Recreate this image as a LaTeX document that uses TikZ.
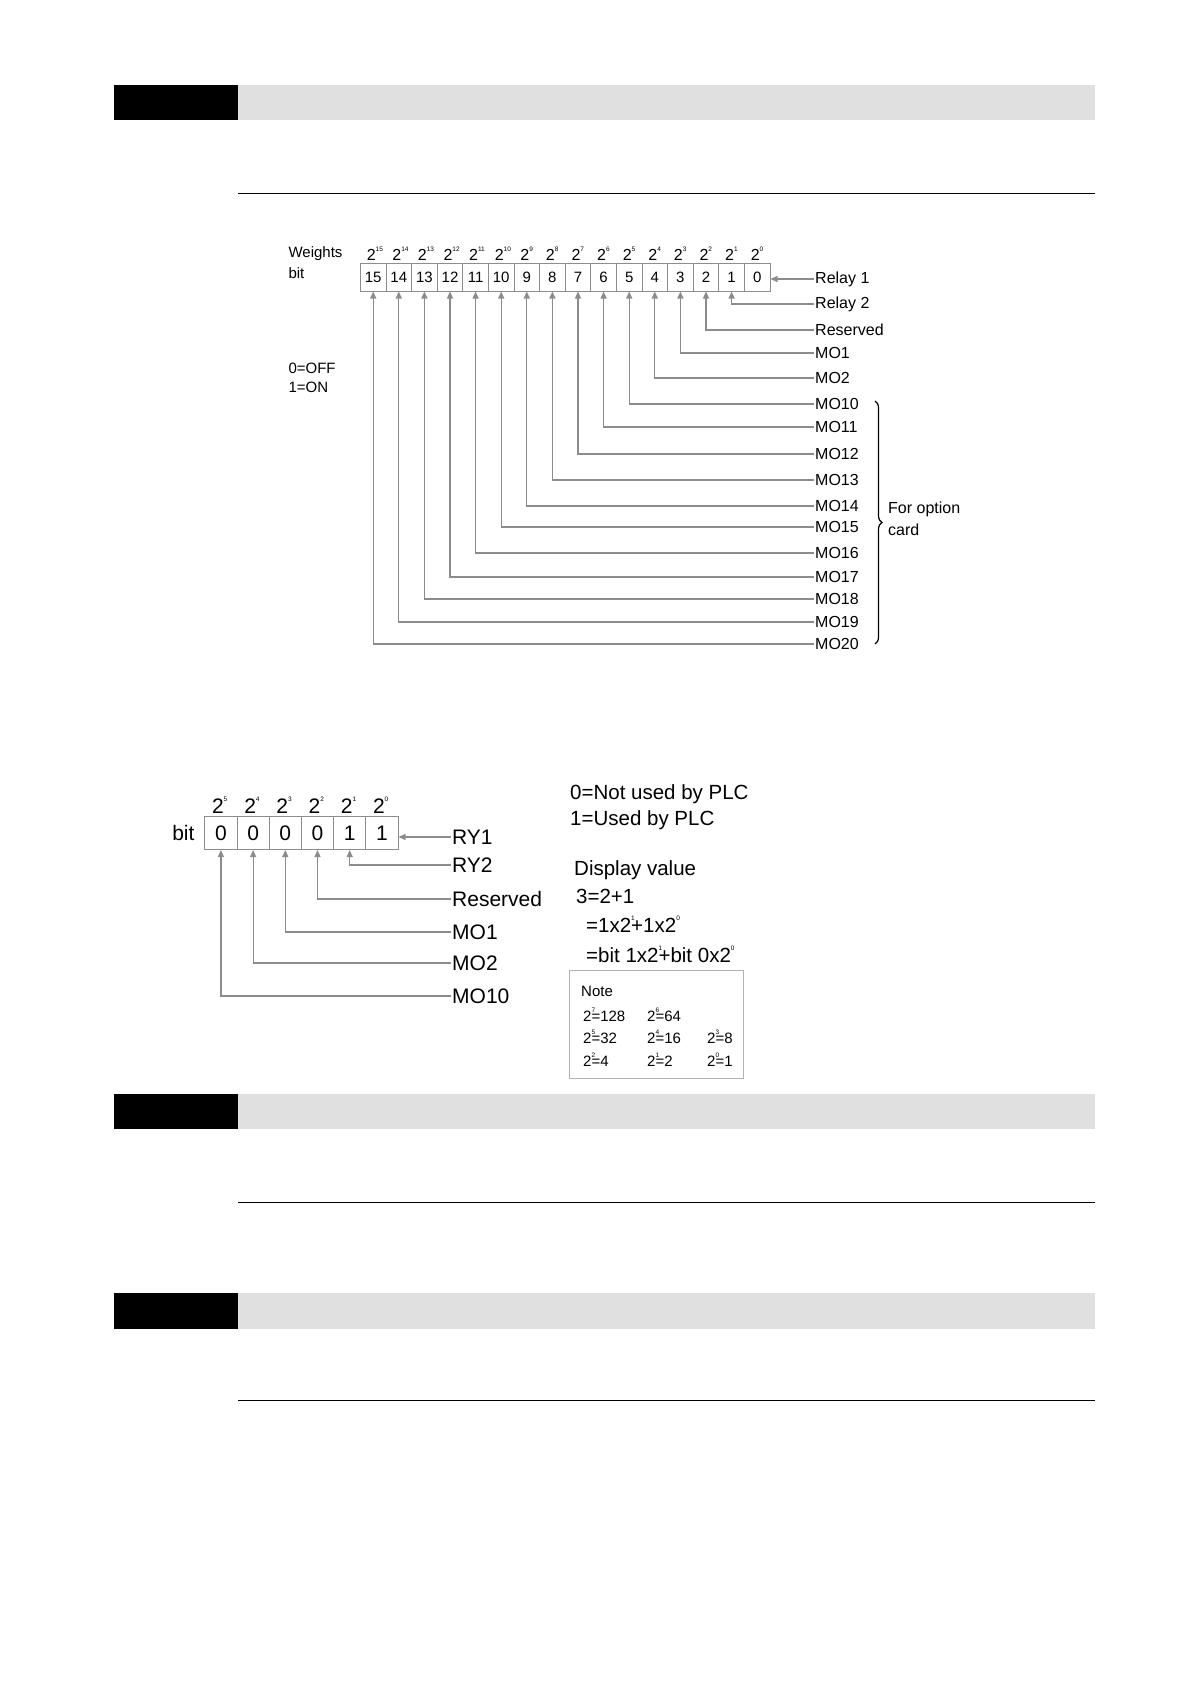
\documentclass[tikz,border=0pt]{standalone}
\usepackage{fontspec}
\setmainfont{Liberation Sans}
\usetikzlibrary{arrows.meta,decorations.pathreplacing}
\definecolor{linegray}{gray}{0.55}
\definecolor{bargray}{gray}{0.88}
\newcommand{\pw}[2]{#1\rlap{\raisebox{1.1ex}{\fontsize{6.5}{6.5}\selectfont #2}}}
\tikzset{
	bitbox/.style={rectangle, draw=linegray, line width=1pt, inner sep=0pt},
	lbl/.style={anchor=west, inner sep=1pt},
	arr/.style={draw=linegray, line width=1.2pt, -{Triangle[length=7pt,width=6pt]}}
}
\begin{document}
\begin{tikzpicture}[x=1pt,y=-1pt]
		\useasboundingbox (0,0) rectangle (1190,1684);

		% section heads
		\foreach \ya/\yb/\yl in {85/120/193, 1094/1129/1202, 1293/1329/1400} {
			\fill[black] (114,\ya) rectangle (238,\yb);
			\fill[bargray] (238,\ya) rectangle (1095,\yb);
			\draw[line width=0.8pt] (238,\yl) -- (1095,\yl);
		}

		% upper diagram
		\node[anchor=west, font=\fontsize{15}{15}\selectfont] at (285,254) {Weights};
		\node[anchor=west, font=\fontsize{15}{15}\selectfont] at (285,273) {bit};
		\node[anchor=west, font=\fontsize{15}{15}\selectfont] at (285,368) {0=OFF};
		\node[anchor=west, font=\fontsize{15}{15}\selectfont] at (285,387) {1=ON};

		\foreach \i in {0,...,15} {
			\node[bitbox, minimum width=25.6pt, minimum height=28pt,
				font=\fontsize{15}{15}\selectfont] (b\i) at ({770-12.8-25.6*\i},277) {\i};
			\node[font=\fontsize{16}{16}\selectfont] at ({770-12.8-25.6*\i-2},254) {\pw{2}{\i}};
		}

		\foreach \i/\y/\t in {0/279/Relay 1, 1/304/Relay 2, 2/330/Reserved, 3/353/MO1,
			4/378/MO2, 5/404/MO10, 6/427/MO11, 7/454/MO12, 8/480/MO13, 9/506/MO14,
			10/527/MO15, 11/553/MO16, 12/577/MO17, 13/599/MO18, 14/622/MO19, 15/644/MO20}
			\node[lbl, font=\fontsize{16}{16}\selectfont] (l\i) at (814,\y) {\t};

		\draw[arr] (l0.west) -- (l0.west -| b0.east);
		\foreach \i in {1,...,15}
			\draw[arr] (l\i.west) -| (b\i.south);

		\draw[line width=1.2pt, decorate, decoration={brace, amplitude=7pt}] (875,401) -- (875,644);
		\node[lbl, font=\fontsize{16}{16}\selectfont] at (887,509) {For option};
		\node[lbl, font=\fontsize{16}{16}\selectfont] at (887,530) {card};

		% lower diagram
		\node[anchor=east, font=\fontsize{21}{21}\selectfont] at (198,833) {bit};
		\foreach \i/\v in {0/1, 1/1, 2/0, 3/0, 4/0, 5/0} {
			\node[bitbox, minimum width=32.2pt, minimum height=33pt,
				font=\fontsize{21}{21}\selectfont] (c\i) at ({398-16.1-32.2*\i},833) {\v};
			\node[font=\fontsize{21}{21}\selectfont] at ({398-16.1-32.2*\i-3},805) {\pw{2}{\i}};
		}

		\foreach \i/\y/\t in {0/837/RY1, 1/865/RY2, 2/899/Reserved, 3/932/MO1, 4/963/MO2, 5/996/MO10}
			\node[lbl, font=\fontsize{21}{21}\selectfont] (r\i) at (451,\y) {\t};

		\draw[arr] (r0.west) -- (r0.west -| c0.east);
		\foreach \i in {1,...,5}
			\draw[arr] (r\i.west) -| (c\i.south);

		\node[lbl, font=\fontsize{20.5}{20.5}\selectfont] at (569,794) {0=Not used by PLC};
		\node[lbl, font=\fontsize{20.5}{20.5}\selectfont] at (569,820) {1=Used by PLC};
		\node[lbl, font=\fontsize{20.5}{20.5}\selectfont] at (573,870) {Display value};
		\node[lbl, font=\fontsize{20.5}{20.5}\selectfont] at (575,896) {3=2+1};
		\node[lbl, font=\fontsize{20.5}{20.5}\selectfont] at (585,924) {=1x\pw{2}{1}+1x\pw{2}{0}};
		\node[lbl, font=\fontsize{20.5}{20.5}\selectfont] at (585,954) {=bit 1x\pw{2}{1}+bit 0x\pw{2}{0}};

		\draw[draw=gray!60, line width=1pt] (569,970) rectangle (743,1078);
		\node[lbl, font=\fontsize{15}{15}\selectfont] at (580,991) {Note};
		\foreach \x/\y/\e/\v in {582/1015/7/128, 646/1015/6/64, 582/1037/5/32, 646/1037/4/16,
			706/1037/3/8, 582/1060/2/4, 646/1060/1/2, 706/1060/0/1}
			\node[lbl, font=\fontsize{15}{15}\selectfont] at (\x,\y) {\pw{2}{\e}=\v};
	\end{tikzpicture}
\end{document}
